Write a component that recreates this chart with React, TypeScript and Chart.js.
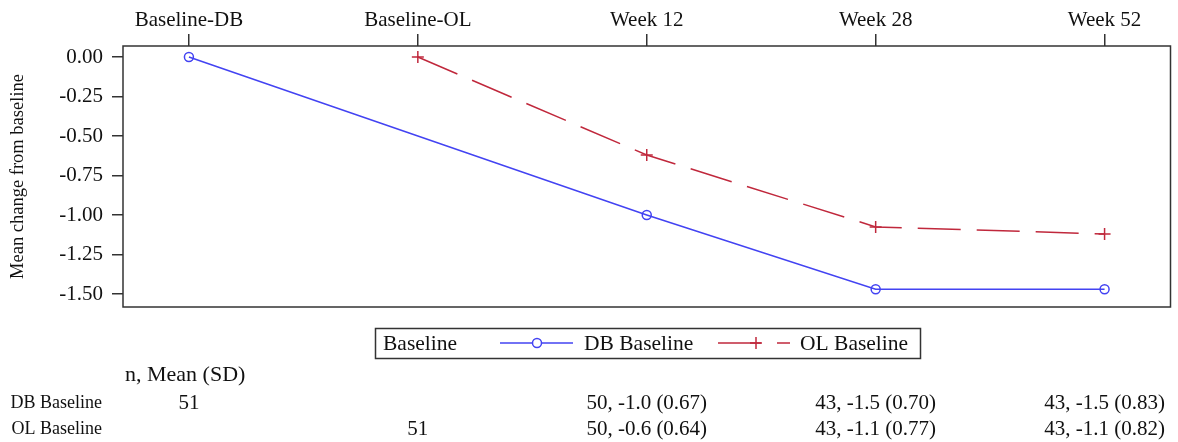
import { useEffect, useRef } from 'react';
import { Chart, registerables } from 'chart.js';

Chart.register(...registerables);

const FONT = "'Liberation Serif', 'Times New Roman', serif";

const categories = ['Baseline-DB', 'Baseline-OL', 'Week 12', 'Week 28', 'Week 52'];
const dbMeans: (number | null)[] = [0, null, -1.0, -1.47, -1.47];
const olMeans: (number | null)[] = [null, 0, -0.62, -1.075, -1.12];
const yTickValues = [0, -0.25, -0.5, -0.75, -1.0, -1.25, -1.5];
const tableHeader = 'n, Mean (SD)';
const rowLabels = ['DB Baseline', 'OL Baseline'];
const dbTable = ['51', '', '50, -1.0 (0.67)', '43, -1.5 (0.70)', '43, -1.5 (0.83)'];
const olTable = ['', '51', '50, -0.6 (0.64)', '43, -1.1 (0.77)', '43, -1.1 (0.82)'];
const legendTitle = 'Baseline';
const seriesNames = ['DB Baseline', 'OL Baseline'];

const BLUE = '#4343f2';
const RED = '#c0283c';
const AXIS = '#333333';
const TEXT = '#111111';
const DASH = [43, 16];

const toPoints = (arr: (number | null)[]) =>
  arr.map((v, i) => ({ x: i, y: v })).filter((p) => p.y !== null) as { x: number; y: number }[];

const overlayPlugin = {
  id: 'overlay',
  afterDraw(chart: any) {
    const ctx: CanvasRenderingContext2D = chart.ctx;
    const { left, top, right, bottom } = chart.chartArea;
    ctx.save();
    // frame
    ctx.strokeStyle = AXIS;
    ctx.lineWidth = 1.5;
    ctx.strokeRect(left, top, right - left, bottom - top);

    // legend
    const lx = 375, ly = 328, lw = 545, lh = 30;
    const my = ly + lh / 2;
    ctx.lineWidth = 1.5;
    ctx.strokeStyle = AXIS;
    ctx.strokeRect(lx + 0.5, ly + 0.5, lw, lh);
    ctx.fillStyle = TEXT;
    ctx.font = `21.5px ${FONT}`;
    ctx.textBaseline = 'middle';
    ctx.textAlign = 'left';
    ctx.fillText(legendTitle, 383, my + 1);
    // DB sample
    ctx.strokeStyle = BLUE;
    ctx.lineWidth = 1.5;
    ctx.beginPath();
    ctx.moveTo(500, my);
    ctx.lineTo(573, my);
    ctx.stroke();
    ctx.beginPath();
    ctx.arc(537, my, 4.5, 0, Math.PI * 2);
    ctx.fillStyle = '#ffffff';
    ctx.fill();
    ctx.stroke();
    ctx.fillStyle = TEXT;
    ctx.fillText(seriesNames[0], 584, my + 1);
    // OL sample
    ctx.strokeStyle = RED;
    ctx.setLineDash(DASH);
    ctx.beginPath();
    ctx.moveTo(718, my);
    ctx.lineTo(790, my);
    ctx.stroke();
    ctx.setLineDash([]);
    ctx.beginPath();
    ctx.moveTo(750, my);
    ctx.lineTo(762, my);
    ctx.moveTo(756, my - 6);
    ctx.lineTo(756, my + 6);
    ctx.stroke();
    ctx.fillStyle = TEXT;
    ctx.fillText(seriesNames[1], 800, my + 1);

    // table
    const xs = chart.scales.x;
    ctx.fillStyle = TEXT;
    ctx.font = `22px ${FONT}`;
    ctx.textAlign = 'left';
    ctx.fillText(tableHeader, 125, 375);
    ctx.font = `18px ${FONT}`;
    ctx.textAlign = 'right';
    ctx.fillText(rowLabels[0], 102, 403);
    ctx.fillText(rowLabels[1], 102, 429);
    ctx.font = `21px ${FONT}`;
    ctx.textAlign = 'center';
    for (let i = 0; i < categories.length; i++) {
      const x = xs.getPixelForValue(i);
      if (dbTable[i]) ctx.fillText(dbTable[i], x, 403);
      if (olTable[i]) ctx.fillText(olTable[i], x, 429);
    }
    ctx.restore();
  },
};

export default function App() {
  const ref = useRef<HTMLCanvasElement | null>(null);
  useEffect(() => {
    if (!ref.current) return;
    const chart = new Chart(ref.current, {
      type: 'line',
      data: {
        datasets: [
          {
            label: seriesNames[0],
            data: toPoints(dbMeans),
            borderColor: BLUE,
            backgroundColor: 'rgba(255,255,255,1)',
            borderWidth: 1.5,
            pointStyle: 'circle',
            pointRadius: 4.5,
            pointBorderWidth: 1.5,
            pointBorderColor: BLUE,
            pointBackgroundColor: 'rgba(255,255,255,0)',
            tension: 0,
          },
          {
            label: seriesNames[1],
            data: toPoints(olMeans),
            borderColor: RED,
            backgroundColor: RED,
            borderWidth: 1.5,
            borderDash: DASH,
            pointStyle: 'cross',
            pointRadius: 6,
            pointBorderWidth: 1.5,
            pointBorderColor: RED,
            tension: 0,
          },
        ],
      },
      options: {
        animation: false,
        responsive: true,
        maintainAspectRatio: false,
        layout: { padding: { left: 0, top: 0, right: 5, bottom: 135 } },
        plugins: { legend: { display: false }, tooltip: { enabled: false } },
        scales: {
          x: {
            type: 'linear',
            position: 'top',
            min: -0.288,
            max: 4.288,
            afterBuildTicks: (s: any) => {
              s.ticks = categories.map((_, i) => ({ value: i }));
            },
            afterFit: (s: any) => {
              s.height = 46;
            },
            ticks: {
              callback: (v: any) => categories[v as number] ?? '',
              font: { family: FONT, size: 21 },
              color: TEXT,
              padding: 1,
              maxRotation: 0,
              autoSkip: false,
            },
            grid: { drawOnChartArea: false, drawTicks: true, tickLength: 12, color: AXIS, lineWidth: 1.5 },
            border: { display: false },
          },
          y: {
            type: 'linear',
            min: -1.582,
            max: 0.07,
            afterBuildTicks: (s: any) => {
              s.ticks = yTickValues.map((v) => ({ value: v }));
            },
            afterFit: (s: any) => {
              s.width = 123;
            },
            ticks: {
              callback: (v: any) => Number(v).toFixed(2),
              font: { family: FONT, size: 21 },
              color: TEXT,
              padding: 9,
            },
            title: {
              display: true,
              text: 'Mean change from baseline',
              font: { family: FONT, size: 18.5 },
              color: TEXT,
              padding: { top: 7, bottom: 0 },
            },
            grid: { drawOnChartArea: false, drawTicks: true, tickLength: 11, color: AXIS, lineWidth: 1.5 },
            border: { display: false },
          },
        },
      },
      plugins: [overlayPlugin],
    });
    return () => chart.destroy();
  }, []);
  return (
    <div style={{ position: 'fixed', left: 0, top: 0, width: 1178, height: 442, background: '#fff' }}>
      <canvas ref={ref} />
    </div>
  );
}
